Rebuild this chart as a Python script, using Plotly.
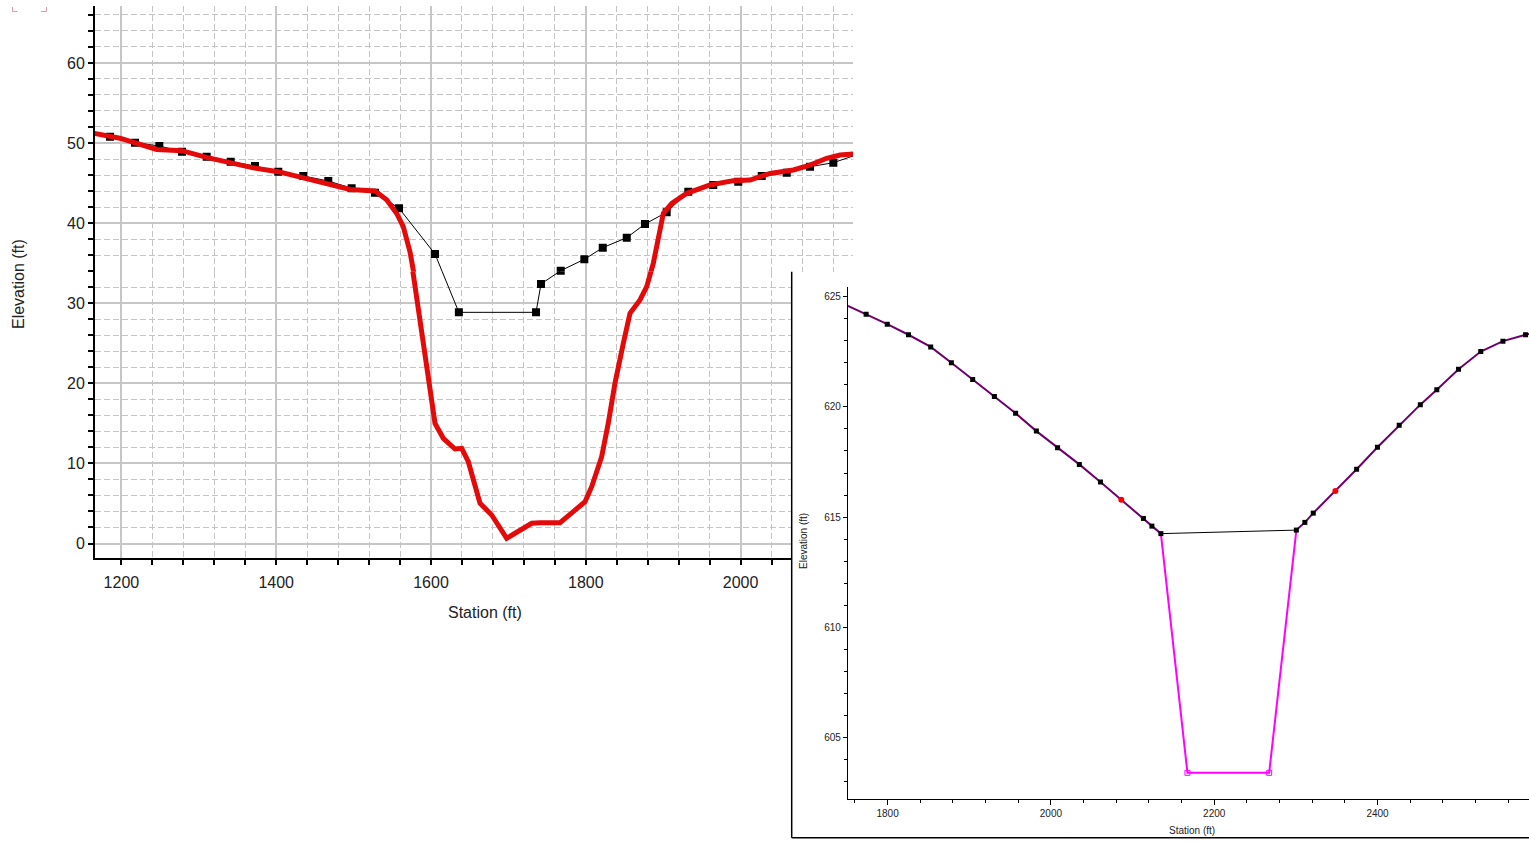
import plotly.graph_objects as go

# ---------------- data: left chart (elevation profile) ----------------
ref_station = [1185.3, 1217.6, 1249, 1278.3, 1310.2, 1341.2, 1372.6, 1402.7, 1435, 1467.3,
               1497.5, 1527.6, 1558.7, 1605.2, 1636, 1735.7, 1742.1, 1767.6, 1798.1, 1821.9,
               1852.9, 1876.5, 1904.5, 1932.4, 1964.7, 1997, 2027.3, 2059.6, 2089.7, 2119.8, 2152]
ref_elev = [50.79, 50.04, 49.63, 48.91, 48.29, 47.66, 47.13, 46.42, 45.88, 45.26,
            44.35, 43.8, 41.85, 36.14, 28.86, 28.86, 32.4, 34.06, 35.48, 36.93,
            38.18, 39.89, 41.35, 43.92, 44.76, 45.17, 45.88, 46.29, 47.04, 47.54, 48.6]

new_station = [1165, 1198, 1245.6, 1278, 1310, 1370.4, 1402.7, 1430.8, 1473.8, 1495.4,
               1527.7, 1542.7, 1555.7, 1564.2, 1572.9, 1581.5, 1590, 1598.7, 1605.2, 1615.9,
               1631, 1639.7, 1648.2, 1663.3, 1678.4, 1697.8, 1710.7, 1730.1, 1740.8, 1766.7,
               1783.8, 1799, 1807.6, 1820.5, 1829, 1837.7, 1848.5, 1857.1, 1870, 1878.7,
               1887.2, 1893.7, 1900.2, 1911, 1930.4, 1960.5, 1990.6, 2012.2, 2038, 2068.1,
               2089.7, 2111.2, 2128.4, 2146]
new_elev = [51.2, 50.6, 49.2, 49.04, 48.2, 46.9, 46.42, 45.7, 44.76, 44.2,
            44.0, 42.9, 41.2, 39.55, 36.4, 30.6, 25.0, 19.16, 15.0, 13.13,
            11.8, 11.88, 10.21, 5.02, 3.56, 0.65, 1.47, 2.52, 2.6, 2.6,
            3.97, 5.22, 7.09, 10.84, 15.0, 20.0, 25.0, 28.74, 30.4, 32.06,
            34.98, 38.3, 41.22, 42.47, 43.72, 44.76, 45.3, 45.38, 46.2, 46.63,
            47.25, 48.09, 48.5, 48.63]

# ---------------- data: inset chart (cross section) ----------------
ground_station = [1751.4, 1773.7, 1799.6, 1825.6, 1852.8, 1878.1, 1904.2, 1930.8, 1956.8, 1982.2,
                  2008.2, 2034.8, 2060.7, 2086.2, 2113.3, 2123.7, 2134.7, None,
                  2300.6, 2311, 2321.3, 2348.4, 2374.4, 2399.9, 2426.5, 2452.4, 2472.6, 2499.2,
                  2526.4, 2553.6, 2581.3, 2592]
ground_elev = [624.58, 624.2, 623.75, 623.27, 622.72, 622.0, 621.24, 620.47, 619.71, 618.9,
               618.15, 617.39, 616.59, 615.79, 614.94, 614.59, 614.25, None,
               614.41, 614.76, 615.18, 616.18, 617.17, 618.17, 619.17, 620.1, 620.78, 621.71,
               622.51, 622.98, 623.27, 623.35]
point_station = [1773.7, 1799.6, 1825.6, 1852.8, 1878.1, 1904.2, 1930.8, 1956.8, 1982.2,
                 2008.2, 2034.8, 2060.7, 2113.3, 2123.7, 2134.7,
                 2300.6, 2311, 2321.3, 2374.4, 2399.9, 2426.5, 2452.4, 2472.6, 2499.2,
                 2526.4, 2553.6, 2581.3]
point_elev = [624.2, 623.75, 623.27, 622.72, 622.0, 621.24, 620.47, 619.71, 618.9,
              618.15, 617.39, 616.59, 614.94, 614.59, 614.25,
              614.41, 614.76, 615.18, 617.17, 618.17, 619.17, 620.1, 620.78, 621.71,
              622.51, 622.98, 623.27]
bank_station = [2086.2, 2348.4]
bank_elev = [615.79, 616.18]
channel_station = [2134.7, 2167.2, 2267.3, 2300.6]
channel_elev = [614.25, 603.4, 603.4, 614.41]
surface_station = [2134.7, 2300.6]
surface_elev = [614.25, 614.41]

# ---------------- layout geometry (pixels) ----------------
W, H = 1529, 842


def fx(p):
    return p / W


def fy(p):
    return 1 - p / H


# left chart calibration
X_PX0, X_VAL0, X_PPU = 121.4, 1200.0, 154.8 / 200.0
Y_PX0, Y_PPU = 543.5, 8.01


def xv(p):
    return X_VAL0 + (p - X_PX0) / X_PPU


def yv(p):
    return (Y_PX0 - p) / Y_PPU


L_LEFT, L_RIGHT, L_TOP, L_BOT = 95, 853, 6, 557.7
INS_LEFT, INS_TOP = 791.7, 271.7

GRID_MAJ = "#c6c6c6"
GRID_MIN = "#c4c4c4"
TXT = "#222222"
FONT = "Liberation Sans, Arial, sans-serif"

fig = go.Figure()

for xa, ya in [("x", "y"), ("x2", "y2")]:
    fig.add_trace(go.Scatter(
        x=ref_station, y=ref_elev, xaxis=xa, yaxis=ya, mode="lines+markers",
        line=dict(color="black", width=1),
        marker=dict(symbol="square", size=8, color="black"),
        showlegend=False, hoverinfo="skip"))
    fig.add_trace(go.Scatter(
        x=new_station, y=new_elev, xaxis=xa, yaxis=ya, mode="lines",
        line=dict(color="#e40a0a", width=5),
        showlegend=False, hoverinfo="skip"))

# inset traces
fig.add_trace(go.Scatter(
    x=channel_station, y=channel_elev, xaxis="x3", yaxis="y3", mode="lines",
    line=dict(color="#ff00ff", width=2), showlegend=False, hoverinfo="skip"))
fig.add_trace(go.Scatter(
    x=channel_station[1:3], y=channel_elev[1:3], xaxis="x3", yaxis="y3", mode="markers",
    marker=dict(symbol="square-open", size=5, color="#ff00ff"),
    showlegend=False, hoverinfo="skip"))
fig.add_trace(go.Scatter(
    x=surface_station, y=surface_elev, xaxis="x3", yaxis="y3", mode="lines",
    line=dict(color="black", width=1), showlegend=False, hoverinfo="skip"))
fig.add_trace(go.Scatter(
    x=ground_station, y=ground_elev, xaxis="x3", yaxis="y3", mode="lines",
    line=dict(color="#6e006e", width=2), connectgaps=False,
    showlegend=False, hoverinfo="skip"))
fig.add_trace(go.Scatter(
    x=point_station, y=point_elev, xaxis="x3", yaxis="y3", mode="markers",
    marker=dict(symbol="square", size=5, color="black"),
    showlegend=False, hoverinfo="skip"))
fig.add_trace(go.Scatter(
    x=bank_station, y=bank_elev, xaxis="x3", yaxis="y3", mode="markers",
    marker=dict(symbol="circle", size=6, color="#ff0000"),
    showlegend=False, hoverinfo="skip"))

left_x_common = dict(
    dtick=200, tick0=1200, showgrid=True, gridcolor=GRID_MAJ, gridwidth=1.6,
    zeroline=False,
    tickfont=dict(family=FONT, size=16, color=TXT),
)
left_y_common = dict(
    dtick=10, tick0=0, showgrid=True, gridcolor=GRID_MAJ, gridwidth=1.6,
    zeroline=False, showline=True, linecolor="black", linewidth=2,
    ticks="outside", ticklen=5, tickwidth=1.5, tickcolor="black",
    tickfont=dict(family=FONT, size=16, color=TXT),
    minor=dict(dtick=2, tick0=0, ticks="outside", ticklen=5, tickwidth=1.5,
               tickcolor="black", showgrid=True, gridcolor=GRID_MIN,
               gridwidth=1, griddash="6px,3px"),
)

fig.update_layout(
    width=W, height=H,
    margin=dict(l=0, r=0, t=0, b=0),
    paper_bgcolor="white", plot_bgcolor="white",
    showlegend=False,
    xaxis=dict(domain=[fx(L_LEFT), fx(L_RIGHT)], anchor="y",
               range=[xv(L_LEFT), xv(L_RIGHT)],
               showline=False, ticks="", showticklabels=False,
               minor=dict(dtick=40, tick0=1200, showgrid=True, gridcolor=GRID_MIN,
                          gridwidth=1, griddash="6px,3px"),
               **left_x_common),
    yaxis=dict(domain=[fy(INS_TOP), fy(L_TOP)], anchor="x",
               range=[yv(INS_TOP), yv(L_TOP)], **left_y_common),
    xaxis2=dict(domain=[fx(L_LEFT), fx(INS_LEFT)], anchor="y2",
                range=[xv(L_LEFT), xv(INS_LEFT)],
                showline=True, linecolor="black", linewidth=2,
                ticks="outside", ticklen=5, tickwidth=1.5, tickcolor="black",
                ticklabelstandoff=4,
                minor=dict(dtick=40, tick0=1200, ticks="outside", ticklen=5,
                           tickwidth=1.5, tickcolor="black", showgrid=True,
                           gridcolor=GRID_MIN, gridwidth=1, griddash="6px,3px"),
                **left_x_common),
    yaxis2=dict(domain=[fy(L_BOT), fy(INS_TOP)], anchor="x2",
                range=[yv(L_BOT), yv(INS_TOP)], **left_y_common),
    xaxis3=dict(domain=[fx(847.9), 1.0], anchor="y3",
                range=[1751.4, 2585.5], dtick=200, tick0=1800,
                showgrid=False, zeroline=False,
                showline=True, linecolor="black", linewidth=1,
                ticks="outside", ticklen=5, tickwidth=1, tickcolor="black",
                tickfont=dict(family=FONT, size=10, color=TXT),
                minor=dict(dtick=40, tick0=1800, ticks="outside", ticklen=3,
                           tickwidth=1, tickcolor="black", showgrid=False)),
    yaxis3=dict(domain=[fy(799.3), fy(286.7)], anchor="x3",
                range=[602.2, 625.45], dtick=5, tick0=600,
                showgrid=False, zeroline=False,
                showline=True, linecolor="black", linewidth=1,
                ticks="outside", ticklen=4, tickwidth=1, tickcolor="black",
                tickfont=dict(family=FONT, size=10, color=TXT),
                minor=dict(dtick=1, tick0=600, ticks="outside", ticklen=3,
                           tickwidth=1, tickcolor="black", showgrid=False)),
)

shapes = [
    # inset border
    dict(type="line", xref="paper", yref="paper", x0=fx(INS_LEFT), x1=fx(INS_LEFT),
         y0=fy(INS_TOP), y1=fy(837.7), line=dict(color="black", width=1.5)),
    dict(type="line", xref="paper", yref="paper", x0=fx(INS_LEFT), x1=1.0,
         y0=fy(837.7), y1=fy(837.7), line=dict(color="black", width=1.5)),
    # little corner marks top-left
    dict(type="path", xref="paper", yref="paper",
         path=f"M {fx(12.5)} {fy(7)} L {fx(12.5)} {fy(11.5)} L {fx(17.5)} {fy(11.5)}",
         line=dict(color="#e29aa6", width=1)),
    dict(type="path", xref="paper", yref="paper",
         path=f"M {fx(41)} {fy(11.5)} L {fx(46.5)} {fy(11.5)} L {fx(46.5)} {fy(7)}",
         line=dict(color="#e29aa6", width=1)),
]
fig.update_layout(shapes=shapes)

annotations = [
    dict(text="Station (ft)", xref="paper", yref="paper", x=fx(485), y=fy(612),
         showarrow=False, xanchor="center", yanchor="middle",
         font=dict(family=FONT, size=16, color=TXT)),
    dict(text="Elevation (ft)", xref="paper", yref="paper", x=fx(18), y=fy(284),
         showarrow=False, xanchor="center", yanchor="middle", textangle=-90,
         font=dict(family=FONT, size=16, color=TXT)),
    dict(text="Station (ft)", xref="paper", yref="paper", x=fx(1192), y=fy(830),
         showarrow=False, xanchor="center", yanchor="middle",
         font=dict(family=FONT, size=10, color=TXT)),
    dict(text="Elevation (ft)", xref="paper", yref="paper", x=fx(803), y=fy(541),
         showarrow=False, xanchor="center", yanchor="middle", textangle=-90,
         font=dict(family=FONT, size=10, color=TXT)),
]
fig.update_layout(annotations=annotations)

fig.write_html(
    "out.html",
    config={"displayModeBar": False},
    post_script="document.body.style.margin='0';document.body.style.padding='0';"
                "document.body.style.overflow='hidden';",
)
